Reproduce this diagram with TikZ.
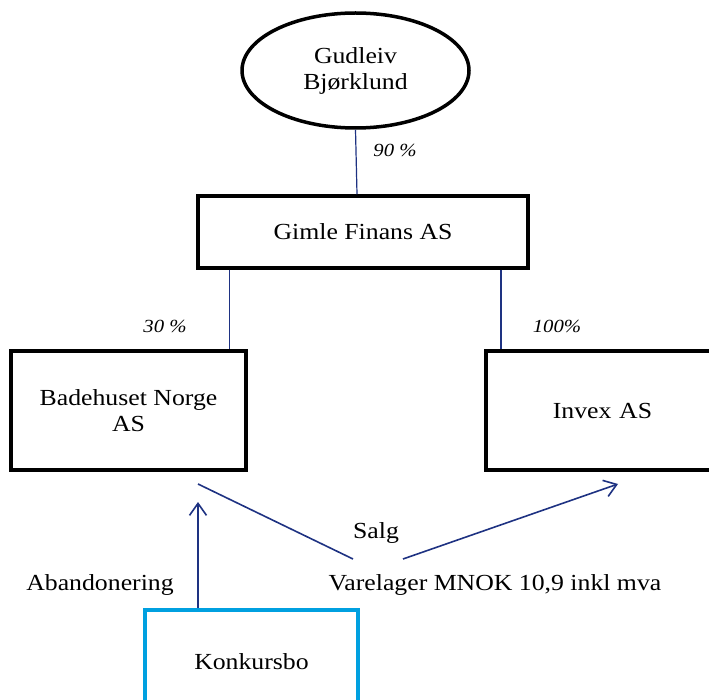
\documentclass[tikz,border=0pt]{standalone}
\usepackage{fontspec}
\setmainfont{Liberation Serif}[FakeStretch=1.12]
\usetikzlibrary{shapes.geometric,arrows.meta}
\definecolor{lineblue}{RGB}{30,50,130}
\definecolor{boxcyan}{RGB}{0,160,224}
\tikzset{
  maintext/.style={font=\fontsize{23}{26}\selectfont, align=center},
  blackbox/.style={draw=black, line width=3.5pt, rectangle, inner sep=0pt, maintext},
  cyanbox/.style={draw=boxcyan, line width=4pt, rectangle, inner sep=0pt, maintext},
  pct/.style={font=\fontsize{18.5}{20}\selectfont\itshape, inner sep=0pt},
  thinline/.style={draw=lineblue, line width=1.2pt},
  arrowline/.style={draw=lineblue, line width=1.6pt},
  tiphead/.style={-{Straight Barb[length=12pt,width=17pt,line width=1.6pt]}},
  plain/.style={maintext, inner sep=0pt}
}
\begin{document}
\begin{tikzpicture}[x=1pt,y=-1pt]
\useasboundingbox (0,0) rectangle (709,700);
\clip (0,0) rectangle (709,700);
\node[ellipse, draw=black, line width=3.5pt, minimum width=227pt, minimum height=115pt, inner sep=0pt, maintext] (ell) at (355.5,70.5) {Gudleiv\\Bjørklund};
\node[blackbox, minimum width=330pt, minimum height=72pt] (gimle) at (363,232) {Gimle Finans AS};
\node[blackbox, minimum width=235pt, minimum height=119pt] (bade) at (128.5,410.5) {Badehuset Norge\\AS};
\node[blackbox, minimum width=239pt, minimum height=119pt, text width=239pt] (invex) at (605.5,410.5) {\hspace*{-6pt}Invex AS};
\node[cyanbox, minimum width=213pt, minimum height=105pt] (konk) at (251.5,662.5) {\raisebox{2pt}{Konkursbo}};

\node[pct] (p90) at (395,150) {90 \%};
\node[pct] (p30) at (165,326) {30 \%};
\node[pct] (p100) at (557,326) {100\%};

\draw[thinline] (ell.south) -- ([xshift=-6pt]gimle.north);
\draw[thinline] ([xshift=-133.5pt]gimle.south) -- ([xshift=101pt]bade.north);
\draw[thinline] ([xshift=138pt]gimle.south) -- ([xshift=-104.5pt]invex.north);

\coordinate (abtip) at (198,502);
\coordinate (s1) at (198,484);
\coordinate (s2) at (353,559);
\coordinate (s3) at (403,559);
\coordinate (s4) at (618,484);

\draw[arrowline, tiphead] ([xshift=-53.5pt]konk.north) -- (abtip);
\draw[arrowline] (s1) -- (s2);
\draw[arrowline, tiphead] (s3) -- (s4);

\node[plain] (salg) at (376,533) {Salg};
\node[plain] (vare) at (495,585) {Varelager MNOK 10,9 inkl mva};
\node[plain] (aband) at (100,585) {Abandonering};
\end{tikzpicture}
\end{document}
